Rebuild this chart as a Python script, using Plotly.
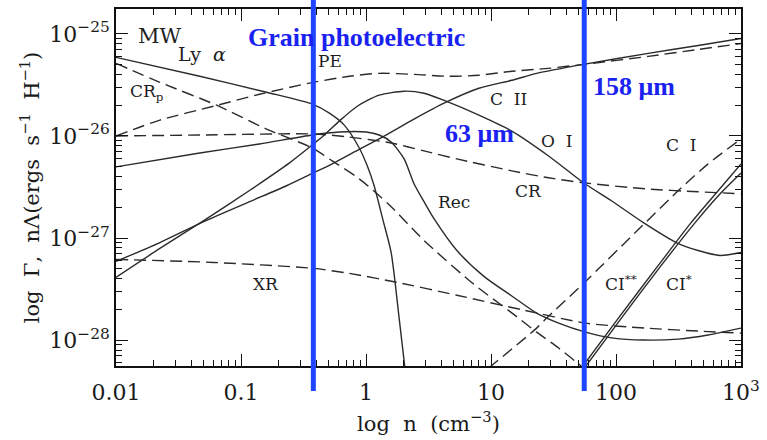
import numpy as np
import plotly.graph_objects as go

# ---- heating (dashed) and cooling (solid) rates ----
# values are log10 n [cm^-3] and log10 rate [erg s^-1 H^-1]

lya_logn = [-2.000, -1.330, -0.796, -0.429, -0.293, -0.174, -0.054, 0.010, 0.065, 0.137, 0.201, 0.265, 0.313]
lya_logG = [-25.231, -25.416, -25.572, -25.689, -25.777, -25.894, -26.118, -26.293, -26.488, -26.829, -27.141, -27.784, -28.29]

rec_logn = [-2.000, -1.330, -0.852, -0.429, -0.214, 0.002, 0.105, 0.201, 0.305, 0.384, 0.464, 0.544,
            0.727, 0.943, 1.158, 1.365, 1.541, 1.756, 1.979, 2.219, 2.498, 2.737, 3.000]
rec_logG = [-26.303, -26.167, -26.079, -25.991, -25.962, -25.962, -25.991, -26.059, -26.225, -26.469, -26.644, -26.810,
            -27.122, -27.375, -27.560, -27.735, -27.833, -27.921, -27.980, -27.999, -27.990, -27.950, -27.882]

oi_logn = [-2.000, -1.649, -1.298, -0.923, -0.612, -0.421, -0.333, -0.214, -0.070, 0.105, 0.305, 0.464,
           0.640, 0.903, 1.166, 1.461, 1.740, 1.963, 2.219, 2.482, 2.657, 2.833, 3.000]
oi_logG = [-27.385, -27.102, -26.829, -26.527, -26.264, -26.079, -25.991, -25.855, -25.709, -25.601, -25.562, -25.582,
           -25.660, -25.796, -25.952, -26.196, -26.459, -26.635, -26.849, -27.044, -27.122, -27.171, -27.141]

cii_logn = [-2.000, -1.649, -1.298, -0.931, -0.636, -0.421, -0.301, -0.094, 0.145, 0.384, 0.624, 0.903,
            1.166, 1.365, 1.740, 2.258, 2.657, 3.000]
cii_logG = [-27.229, -27.044, -26.839, -26.644, -26.488, -26.362, -26.293, -26.157, -26.001, -25.835, -25.679, -25.533,
            -25.455, -25.387, -25.299, -25.192, -25.114, -25.046]

pe_logn = [-2.000, -1.649, -1.219, -0.852, -0.421, -0.134, 0.105, 0.384, 0.663, 0.903, 1.166, 1.461,
           1.740, 2.258, 2.657, 3.000]
pe_logG = [-26.001, -25.845, -25.709, -25.592, -25.475, -25.416, -25.387, -25.397, -25.416, -25.406, -25.367, -25.338,
           -25.299, -25.221, -25.153, -25.095]

cr_logn = [-2.000, -1.330, -0.421, -0.134, 0.201, 0.464, 0.727, 1.166, 1.461, 1.740, 2.234, 2.657, 3.000]
cr_logG = [-26.001, -25.991, -25.981, -26.011, -26.069, -26.147, -26.225, -26.342, -26.410, -26.459, -26.518, -26.547, -26.566]

crp_logn = [-2.000, -1.649, -1.195, -0.796, -0.429, -0.270, -0.054, 0.185, 0.464, 0.863, 1.158, 1.365, 1.541, 1.740]
crp_logG = [-25.289, -25.475, -25.699, -25.933, -26.118, -26.245, -26.420, -26.674, -27.024, -27.453, -27.725, -27.921, -28.077, -28.272]

xr_logn = [-2.000, -1.219, -0.421, -0.134, 0.249, 0.727, 1.262, 1.756, 2.234, 2.657, 3.000]
xr_logG = [-27.209, -27.239, -27.297, -27.346, -27.434, -27.560, -27.706, -27.833, -27.882, -27.911, -27.931]

ci2_logn = [0.982, 1.365, 1.445, 1.740, 2.179, 2.514, 2.737, 3.000]
ci2_logG = [-28.272, -27.882, -27.784, -27.444, -26.917, -26.518, -26.274, -26.030]

ci1a_logn = [1.724, 2.019, 2.338, 2.601, 2.817, 3.000]
ci1a_logG = [-28.272, -27.784, -27.268, -26.849, -26.537, -26.274]
ci1b_logn = [1.748, 2.043, 2.362, 2.633, 2.833, 3.000]
ci1b_logG = [-28.272, -27.784, -27.268, -26.849, -26.566, -26.362]

# densities marked by the vertical guide lines (cm^-3)
guide_n = [0.379, 55.7]

# axis ticks
x_ticks = [0.01, 0.1, 1, 10, 100, 1000]
x_ticktext = ["0.01", "0.1", "1", "10", "100", "10<sup>3</sup>"]
y_ticks = [1e-28, 1e-27, 1e-26, 1e-25]
y_ticktext = ["10<sup>\u221228</sup>", "10<sup>\u221227</sup>", "10<sup>\u221226</sup>", "10<sup>\u221225</sup>"]

INK = "#2b2b2b"
BLUE = "#1f46ff"
BLUE_TXT = "#1a22f2"
SERIF = "DejaVu Serif"

fig = go.Figure()

solid = [(lya_logn, lya_logG), (rec_logn, rec_logG), (oi_logn, oi_logG), (cii_logn, cii_logG),
         (ci1a_logn, ci1a_logG), (ci1b_logn, ci1b_logG)]
dashed = [(pe_logn, pe_logG), (cr_logn, cr_logG), (crp_logn, crp_logG), (xr_logn, xr_logG),
          (ci2_logn, ci2_logG)]

for (ln, lg) in solid:
    fig.add_trace(go.Scatter(x=10 ** np.array(ln), y=10 ** np.array(lg), mode="lines",
                             line=dict(color=INK, width=1.4, shape="spline", smoothing=0.7),
                             hoverinfo="skip", showlegend=False))
for (ln, lg) in dashed:
    fig.add_trace(go.Scatter(x=10 ** np.array(ln), y=10 ** np.array(lg), mode="lines",
                             line=dict(color=INK, width=1.4, dash="12px,6px", shape="spline", smoothing=0.7),
                             hoverinfo="skip", showlegend=False))

# vertical guide lines, running past the frame
for n in guide_n:
    fig.add_shape(type="line", xref="x", yref="paper", x0=n, x1=n, y0=-0.07, y1=1.03,
                  line=dict(color=BLUE, width=5), layer="above")

# curve labels (positions in log10 units)
labels = [
    ("MW", -1.649, -25.026, 21),
    ("Ly  <i>\u03b1</i>", -1.314, -25.202, 19),
    ("PE", -0.285, -25.268, 17),
    ("C  II", 1.142, -25.641, 17),
    ("O  I", 1.525, -26.050, 17),
    ("C  I", 2.522, -26.089, 17),
    ("CR", 1.301, -26.537, 17),
    ("Rec", 0.703, -26.644, 17),
    ("XR", -0.804, -27.453, 17),
    ("CI<sup>**</sup>", 2.040, -27.444, 17),
    ("CI<sup>*</sup>", 2.500, -27.444, 17),
]
for text, lx, ly, size in labels:
    fig.add_annotation(x=lx, y=ly, xref="x", yref="y", text=text, showarrow=False,
                       font=dict(family=SERIF, size=size, color="#1e1e1e"))
fig.add_annotation(x=-1.904, y=-25.572, xref="x", yref="y", text="CR<sub>p</sub>", showarrow=False,
                   xanchor="left", font=dict(family=SERIF, size=17, color="#1e1e1e"))

blue_labels = [
    ("Grain photoelectric", -0.078, -25.040),
    ("63 \u03bcm", 0.911, -25.972),
    ("158 \u03bcm", 2.147, -25.514),
]
for text, lx, ly in blue_labels:
    fig.add_annotation(x=lx, y=ly, xref="x", yref="y", text="<b>" + text + "</b>", showarrow=False,
                       font=dict(family="Liberation Serif", size=26, color=BLUE_TXT))

x_minor = [k * 10.0 ** e for e in range(-2, 3) for k in range(2, 10)]
y_minor = [k * 10.0 ** e for e in range(-29, -24) for k in range(2, 10)]

axis_common = dict(showline=True, linecolor="#111", linewidth=1.6, mirror="ticks",
                   ticks="inside", tickcolor="#111", tickwidth=1.3, ticklen=12,
                   showgrid=False, zeroline=False,
                   tickfont=dict(family=SERIF, size=22, color="#1a1a1a"))

fig.update_xaxes(type="log", range=[-2, 3], tickvals=x_ticks, ticktext=x_ticktext,
                 minor=dict(ticks="inside", ticklen=6, tickcolor="#111", tickwidth=1.2, tickvals=x_minor),
                 title=dict(text="log\u00a0\u00a0n\u00a0\u00a0(cm<sup>\u22123</sup>)",
                            font=dict(family=SERIF, size=21, color="#1a1a1a"), standoff=12),
                 ticklabelstandoff=6, **axis_common)
fig.update_yaxes(type="log", range=[-28.253, -24.757], tickvals=y_ticks, ticktext=y_ticktext,
                 minor=dict(ticks="inside", ticklen=6, tickcolor="#111", tickwidth=1.2, tickvals=y_minor),
                 title=dict(text="log\u00a0\u00a0\u0393,\u00a0\u00a0n\u039b(ergs\u00a0\u00a0s<sup>\u22121</sup>\u00a0\u00a0H<sup>\u22121</sup>)",
                            font=dict(family=SERIF, size=21, color="#1a1a1a"), standoff=4),
                 **axis_common)

fig.update_layout(width=767, height=440, margin=dict(l=116, r=24, t=7, b=74),
                  paper_bgcolor="white", plot_bgcolor="white", showlegend=False)

fig.write_html("out.html")
